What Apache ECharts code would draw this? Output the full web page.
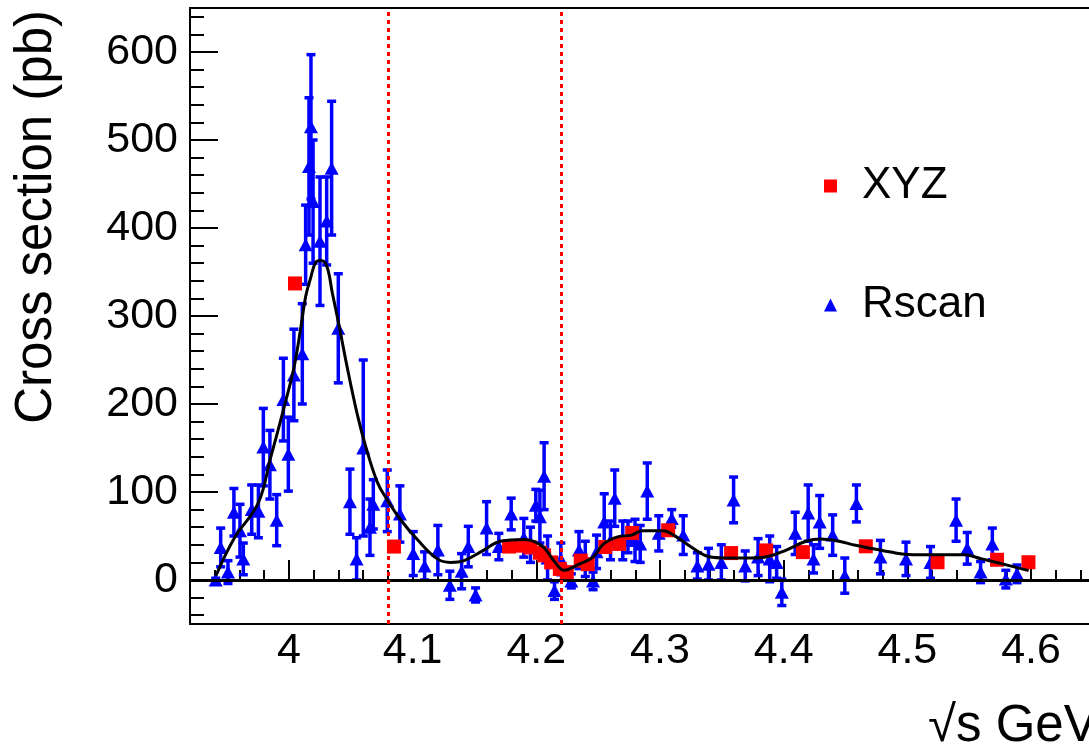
<!DOCTYPE html>
<html>
<head>
<meta charset="utf-8">
<script src="https://cdn.jsdelivr.net/npm/echarts@6/dist/echarts.min.js"></script>
<style>
  html, body { margin: 0; padding: 0; background: #fff; }
  #chart { width: 1089px; height: 751px; }
</style>
</head>
<body>
<div id="chart"></div>
<script>
// Rscan points: energy (GeV), cross section (pb), error (pb)
const rsEnergy = [3.9408, 3.9448, 3.9507, 3.9555, 3.9604, 3.9631, 3.9699, 3.9753, 3.9793, 3.9846,
  3.9901, 3.9955, 3.9995, 4.0040, 4.0108, 4.0135, 4.0162, 4.0178, 4.0195, 4.0251,
  4.0305, 4.0345, 4.0399, 4.0493, 4.0547, 4.0601, 4.0655, 4.0682, 4.0795, 4.0897,
  4.1005, 4.1097, 4.1204, 4.1301, 4.1396, 4.1450, 4.1509, 4.1598, 4.1697, 4.1797,
  4.1899, 4.1953, 4.1996, 4.2029, 4.2063, 4.2091, 4.2147, 4.2198, 4.2283, 4.2345,
  4.2396, 4.2459, 4.2487, 4.2549, 4.2600, 4.2634, 4.2699, 4.2741, 4.2798, 4.2840,
  4.2897, 4.2990, 4.3095, 4.3188, 4.3302, 4.3392, 4.3496, 4.3595, 4.3689, 4.3793,
  4.3887, 4.3943, 4.3985, 4.4093, 4.4198, 4.4241, 4.4291, 4.4396, 4.4494, 4.4588,
  4.4782, 4.4989, 4.5187, 4.5394, 4.5484, 4.5592, 4.5687, 4.5796, 4.5886];
const rsXsec = [0, 37, 9, 77, 56, 24, 80, 78, 151, 131,
  68, 205, 143, 233, 257, 381, 470, 515, 430, 385,
  408, 468, 286, 89, 24, 150, 60, 86, 90, 75,
  30, 16, 34, -6, 10, 38, -17, 59, 38, 75,
  48, 40, 85, 72, 118, 25, -12, 24, -1, 34,
  24, -1, 32, 66, 45, 93, 45, 49, 45, 41,
  101, 53, 70, 51, 16, 18, 20, 91, 16, 26,
  24, 20, -14, 53, 76, 24, 66, 51, 5, 87,
  26, 24, 20, 68, 36, 9, 41, 1, 7];
const rsErr = [2, 22, 13, 27, 30, 18, 28, 30, 44, 39,
  29, 47, 42, 52, 57, 45, 78, 82, 70, 73,
  50, 76, 62, 37, 24, 100, 32, 28, 35, 32,
  25, 16, 28, 16, 20, 23, 8, 30, 15, 18,
  22, 20, 18, 30, 38, 25, 10, 18, 8, 21,
  20, 10, 19, 32, 22, 32, 22, 18, 24, 21,
  32, 20, 10, 22, 15, 18, 20, 26, 17, 21,
  26, 18, 15, 24, 32, 16, 30, 23, 20, 21,
  19, 19, 18, 24, 18, 12, 18, 10, 10];

// XYZ points
const xyzEnergy = [4.0049, 4.0849, 4.178, 4.188, 4.195, 4.203, 4.2063, 4.212, 4.219, 4.2246,
  4.2359, 4.2416, 4.2557, 4.267, 4.2775, 4.3066, 4.3575, 4.3858, 4.4155, 4.4664,
  4.5244, 4.5725, 4.5979];
const xyzXsec = [337, 38, 38, 39, 37, 31, 28, 20, 12.6, 9,
  22, 18, 37.5, 41, 53.5, 56.5, 30.6, 33.6, 31.7, 38.3,
  20.2, 23, 20.2];

// fitted curve
const fitEnergy = [3.941, 3.956, 3.975, 3.9852, 3.996, 4.004, 4.0095, 4.0135, 4.0175, 4.0216,
  4.0256, 4.0305, 4.0351, 4.0404, 4.0472, 4.0553, 4.062, 4.0715, 4.0795, 4.0903,
  4.1038, 4.12, 4.1307, 4.1415, 4.1576, 4.1711, 4.1899, 4.198, 4.2061, 4.2142,
  4.2223, 4.2261, 4.2346, 4.2459, 4.2544, 4.2657, 4.2771, 4.2856, 4.3025, 4.311,
  4.3252, 4.3393, 4.3534, 4.3733, 4.3874, 4.4016, 4.4186, 4.4299, 4.4439, 4.4582,
  4.4723, 4.4865, 4.5006, 4.5204, 4.5459, 4.56, 4.577, 4.598];
const fitXsec = [5, 48, 87, 139, 196, 241, 286, 322, 343, 361,
  363, 357, 326, 290, 241, 188, 152, 111, 91, 68.5,
  46, 24, 20, 22, 34, 44, 46, 44, 37, 22,
  11, 12, 18, 26, 41, 49, 51, 56, 56, 51,
  37.5, 26.7, 25, 25, 26.7, 33.7, 44.3, 46.6, 44.3, 39.4,
  35.6, 31.7, 29, 28.6, 28.6, 24, 18.3, 10.7];

// reference lines and ticks
const cutLines = [4.08, 4.2227];
const xMajorTicks = [4, 4.1, 4.2, 4.3, 4.4, 4.5, 4.6];
const yMajorTicks = [0, 100, 200, 300, 400, 500, 600];
const xMinorTicks = [];
for (let i = 196; i <= 234; i++) xMinorTicks.push(+(i * 0.02).toFixed(2));
const yMinorTicks = [];
for (let v = -40; v <= 640; v += 20) yMinorTicks.push(v);

const FONT = 'Liberation Sans';
const BLUE = '#0000ff';
const RED = '#ff0000';

const chart = echarts.init(document.getElementById('chart'));

const rsData = rsEnergy.map((e, i) => [e, rsXsec[i], rsErr[i]]);
const xyzData = xyzEnergy.map((e, i) => [e, xyzXsec[i]]);
const fitData = fitEnergy.map((e, i) => [e, fitXsec[i]]);

function renderErr(params, api) {
  const x = api.value(0), y = api.value(1), e = api.value(2);
  const top = api.coord([x, y + e]);
  const bot = api.coord([x, y - e]);
  const st = { stroke: BLUE, lineWidth: 3.5 };
  const cap = 4.5;
  return {
    type: 'group',
    children: [
      { type: 'line', shape: { x1: top[0], y1: top[1], x2: bot[0], y2: bot[1] }, style: st },
      { type: 'line', shape: { x1: top[0] - cap, y1: top[1], x2: top[0] + cap, y2: top[1] }, style: st },
      { type: 'line', shape: { x1: bot[0] - cap, y1: bot[1], x2: bot[0] + cap, y2: bot[1] }, style: st }
    ]
  };
}

const axisLabelStyle = { fontFamily: FONT, fontSize: 43, color: '#000' };

chart.setOption({
  animation: false,
  grid: {
    left: 190, top: 8, bottom: 127, right: -41,
    show: true, borderColor: '#000', borderWidth: 2,
    outerBoundsMode: 'none'
  },
  legend: {
    data: [{ name: 'XYZ', icon: 'rect' }, { name: 'Rscan', icon: 'triangle' }],
    orient: 'vertical', left: 824, top: 164, padding: 0,
    itemWidth: 13, itemHeight: 13, itemGap: 75,
    selectedMode: false,
    textStyle: { fontFamily: FONT, fontSize: 44, color: '#000', lineHeight: 44, padding: [0, 0, 0, 20] }
  },
  xAxis: [{
    type: 'value', min: 3.92, max: 4.68,
    axisLine: { lineStyle: { color: '#000', width: 2 } },
    axisTick: { inside: true, length: 20, customValues: xMajorTicks, lineStyle: { color: '#000', width: 2 } },
    axisLabel: Object.assign({ customValues: xMajorTicks, margin: 6,
      formatter: v => String(parseFloat(v.toFixed(1))) }, axisLabelStyle),
    splitLine: { show: false }
  }, {
    type: 'value', min: 3.92, max: 4.68, position: 'bottom',
    axisLine: { show: false },
    axisTick: { inside: true, length: 10, customValues: xMinorTicks, lineStyle: { color: '#000', width: 2 } },
    axisLabel: { show: false },
    splitLine: { show: false }
  }],
  yAxis: [{
    type: 'value', min: -50, max: 650,
    axisLine: { show: true, lineStyle: { color: '#000', width: 2 } },
    axisTick: { show: true, inside: true, length: 28, customValues: yMajorTicks, lineStyle: { color: '#000', width: 2 } },
    axisLabel: Object.assign({ customValues: yMajorTicks, margin: 12 }, axisLabelStyle),
    splitLine: { show: false }
  }, {
    type: 'value', min: -50, max: 650, position: 'left',
    axisLine: { show: false },
    axisTick: { show: true, inside: true, length: 14, customValues: yMinorTicks, lineStyle: { color: '#000', width: 2 } },
    axisLabel: { show: false },
    splitLine: { show: false }
  }],
  graphic: [{
    type: 'text', x: 37, y: 10, rotation: Math.PI / 2,
    style: { text: 'Cross section (pb)', fontFamily: FONT, fontSize: 51, fill: '#000',
      align: 'right', verticalAlign: 'middle' }
  }, {
    type: 'text', x: 928, y: 727,
    style: { text: '\u221As GeV', fontFamily: FONT, fontSize: 51, fill: '#000',
      align: 'left', verticalAlign: 'middle' }
  }],
  series: [{
    type: 'custom', name: 'RscanErr',
    renderItem: renderErr,
    data: rsData,
    encode: { x: 0, y: 1 },
    clip: true, silent: true, z: 2
  }, {
    type: 'scatter', name: 'Rscan',
    data: rsData.map(d => [d[0], d[1]]),
    symbol: 'triangle', symbolSize: [14, 13],
    itemStyle: { color: BLUE, opacity: 1 },
    clip: true, silent: true, z: 3
  }, {
    type: 'line', name: 'zero',
    data: [],
    markLine: {
      silent: true, symbol: 'none', label: { show: false },
      data: [
        { yAxis: 0, lineStyle: { color: '#000', width: 3, type: 'solid' } },
        ...cutLines.map(c => ({ xAxis: c, lineStyle: { color: RED, width: 3, type: [4, 4] } }))
      ]
    },
    z: 4
  }, {
    type: 'scatter', name: 'XYZ',
    data: xyzData,
    symbol: 'rect', symbolSize: 14,
    itemStyle: { color: RED, opacity: 1 },
    clip: true, silent: true, z: 5
  }, {
    type: 'line', name: 'fit',
    data: fitData,
    smooth: 0.4, showSymbol: false,
    lineStyle: { color: '#000', width: 3 },
    silent: true, z: 6
  }]
});
</script>
</body>
</html>
